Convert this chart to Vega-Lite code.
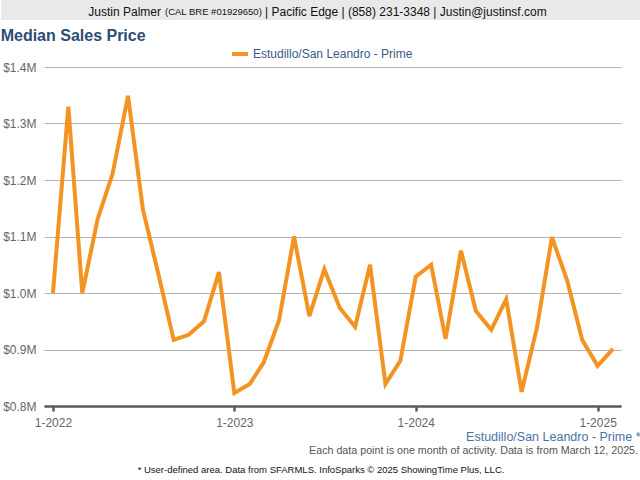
{
  "$schema": "https://vega.github.io/schema/vega-lite/v6.json",
  "padding": 0,
  "background": "white",
  "config": {
    "font": "Liberation Sans",
    "view": {"stroke": null}
  },
  "spacing": 0,
  "resolve": {"scale": {"color": "independent"}, "legend": {"color": "independent"}},
  "vconcat": [
    {
      "width": 597,
      "height": 28,
      "data": {"values": [{"a": "Justin Palmer", "b": "(CAL BRE #01929650)", "c": "| Pacific Edge | (858) 231-3348 | Justin@justinsf.com"}]},
      "layer": [
        {
          "mark": {"type": "rect", "color": "#e9e9e9", "xOffset": -43, "yOffset": -8},
          "encoding": {
            "x": {"datum": 0, "type": "quantitative", "scale": {"domain": [0, 1]}, "axis": null},
            "x2": {"datum": 1},
            "y": {"datum": 0, "type": "quantitative", "scale": {"domain": [0, 1]}, "axis": null},
            "y2": {"datum": 1}
          }
        },
        {"mark": {"type": "text", "align": "right", "dx": -181.5, "dy": -2.3, "fontSize": 12, "color": "#111"}, "encoding": {"text": {"field": "a"}}},
        {"mark": {"type": "text", "align": "left", "dx": -177.5, "dy": -2.3, "fontSize": 9.5, "color": "#111"}, "encoding": {"text": {"field": "b"}}},
        {"mark": {"type": "text", "align": "left", "dx": -77.5, "dy": -2.3, "fontSize": 12, "color": "#111"}, "encoding": {"text": {"field": "c"}}}
      ]
    },
    {
      "width": 577,
      "height": 339,
      "title": {"text": "Median Sales Price", "anchor": "start", "frame": "bounds", "fontSize": 16, "fontWeight": "bold", "color": "#2b4d76", "offset": 0, "dx": -2},
      "data": {"values": [
        {"date": "2022-01-01", "price": 1000000, "area": "Estudillo/San Leandro - Prime"},
        {"date": "2022-02-01", "price": 1330000, "area": "Estudillo/San Leandro - Prime"},
        {"date": "2022-03-01", "price": 1000000, "area": "Estudillo/San Leandro - Prime"},
        {"date": "2022-04-01", "price": 1131000, "area": "Estudillo/San Leandro - Prime"},
        {"date": "2022-05-01", "price": 1211000, "area": "Estudillo/San Leandro - Prime"},
        {"date": "2022-06-01", "price": 1349000, "area": "Estudillo/San Leandro - Prime"},
        {"date": "2022-07-01", "price": 1148000, "area": "Estudillo/San Leandro - Prime"},
        {"date": "2022-08-01", "price": 1034000, "area": "Estudillo/San Leandro - Prime"},
        {"date": "2022-09-01", "price": 917000, "area": "Estudillo/San Leandro - Prime"},
        {"date": "2022-10-01", "price": 926000, "area": "Estudillo/San Leandro - Prime"},
        {"date": "2022-11-01", "price": 950000, "area": "Estudillo/San Leandro - Prime"},
        {"date": "2022-12-01", "price": 1037000, "area": "Estudillo/San Leandro - Prime"},
        {"date": "2023-01-01", "price": 823000, "area": "Estudillo/San Leandro - Prime"},
        {"date": "2023-02-01", "price": 839000, "area": "Estudillo/San Leandro - Prime"},
        {"date": "2023-03-01", "price": 877000, "area": "Estudillo/San Leandro - Prime"},
        {"date": "2023-04-01", "price": 952000, "area": "Estudillo/San Leandro - Prime"},
        {"date": "2023-05-01", "price": 1100000, "area": "Estudillo/San Leandro - Prime"},
        {"date": "2023-06-01", "price": 959000, "area": "Estudillo/San Leandro - Prime"},
        {"date": "2023-07-01", "price": 1042000, "area": "Estudillo/San Leandro - Prime"},
        {"date": "2023-08-01", "price": 974000, "area": "Estudillo/San Leandro - Prime"},
        {"date": "2023-09-01", "price": 940000, "area": "Estudillo/San Leandro - Prime"},
        {"date": "2023-10-01", "price": 1050000, "area": "Estudillo/San Leandro - Prime"},
        {"date": "2023-11-01", "price": 839000, "area": "Estudillo/San Leandro - Prime"},
        {"date": "2023-12-01", "price": 880000, "area": "Estudillo/San Leandro - Prime"},
        {"date": "2024-01-01", "price": 1029000, "area": "Estudillo/San Leandro - Prime"},
        {"date": "2024-02-01", "price": 1050000, "area": "Estudillo/San Leandro - Prime"},
        {"date": "2024-03-01", "price": 919000, "area": "Estudillo/San Leandro - Prime"},
        {"date": "2024-04-01", "price": 1075000, "area": "Estudillo/San Leandro - Prime"},
        {"date": "2024-05-01", "price": 968000, "area": "Estudillo/San Leandro - Prime"},
        {"date": "2024-06-01", "price": 935000, "area": "Estudillo/San Leandro - Prime"},
        {"date": "2024-07-01", "price": 989000, "area": "Estudillo/San Leandro - Prime"},
        {"date": "2024-08-01", "price": 825000, "area": "Estudillo/San Leandro - Prime"},
        {"date": "2024-09-01", "price": 939000, "area": "Estudillo/San Leandro - Prime"},
        {"date": "2024-10-01", "price": 1099000, "area": "Estudillo/San Leandro - Prime"},
        {"date": "2024-11-01", "price": 1021000, "area": "Estudillo/San Leandro - Prime"},
        {"date": "2024-12-01", "price": 917000, "area": "Estudillo/San Leandro - Prime"},
        {"date": "2025-01-01", "price": 871000, "area": "Estudillo/San Leandro - Prime"},
        {"date": "2025-02-01", "price": 901000, "area": "Estudillo/San Leandro - Prime"}
      ]},
      "mark": {"type": "line", "strokeWidth": 4, "strokeJoin": "miter", "strokeCap": "butt"},
      "encoding": {
        "x": {
          "field": "date", "type": "temporal",
          "scale": {"type": "utc", "domain": [{"year": 2021, "month": 12, "date": 14, "utc": true}, {"year": 2025, "month": 2, "date": 17, "utc": true}], "nice": false},
          "axis": {
            "values": [{"year": 2022, "month": 1, "date": 1, "utc": true}, {"year": 2023, "month": 1, "date": 1, "utc": true}, {"year": 2024, "month": 1, "date": 1, "utc": true}, {"year": 2025, "month": 1, "date": 1, "utc": true}],
            "labelExpr": "utcFormat(datum.value, '%-m-%Y')",
            "grid": false,
            "domainColor": "#5a5a5a", "domainWidth": 2.5,
            "tickColor": "#5a5a5a", "tickWidth": 2.5, "tickSize": 5,
            "labelColor": "#666", "labelFontSize": 12, "labelPadding": 6,
            "title": "Estudillo/San Leandro - Prime *",
            "titleColor": "#4a70a4", "titleFontSize": 12.5, "titleFontWeight": "normal",
            "titleAlign": "right", "titleAnchor": "end", "titleBaseline": "middle",
            "titleX": 596, "titleY": 30
          }
        },
        "y": {
          "field": "price", "type": "quantitative",
          "scale": {"domain": [800000, 1400000], "nice": false, "zero": false},
          "axis": {
            "values": [800000, 900000, 1000000, 1100000, 1200000, 1300000, 1400000],
            "labelExpr": "'$' + format(datum.value / 1000000, '.1f') + 'M'",
            "domain": false, "ticks": false,
            "gridColor": "#b4b4b4", "gridWidth": 1,
            "labelColor": "#666", "labelFontSize": 12, "labelPadding": 8,
            "title": null
          }
        },
        "color": {
          "field": "area", "type": "nominal",
          "scale": {"range": ["#f39322"]},
          "legend": {"orient": "none", "legendX": 186, "legendY": -23, "title": null, "symbolType": "stroke", "symbolStrokeWidth": 4, "symbolSize": 250, "labelOffset": 3, "labelColor": "#3b5a85", "labelFontSize": 12, "labelLimit": 400, "padding": 0}
        }
      }
    },
    {
      "width": 597,
      "height": 16,
      "data": {"values": [{"t": "Each data point is one month of activity. Data is from March 12, 2025."}]},
      "mark": {"type": "text", "align": "right", "dx": -3, "fontSize": 10.7, "color": "#555"},
      "encoding": {
        "text": {"field": "t"},
        "x": {"datum": 1, "type": "quantitative", "scale": {"domain": [0, 1]}, "axis": null}
      }
    },
    {
      "width": 597,
      "height": 22,
      "data": {"values": [{"t": "* User-defined area. Data from SFARMLS. InfoSparks © 2025 ShowingTime Plus, LLC."}]},
      "mark": {"type": "text", "fontSize": 9.5, "dx": -21.5, "color": "#111"},
      "encoding": {"text": {"field": "t"}}
    }
  ]
}
